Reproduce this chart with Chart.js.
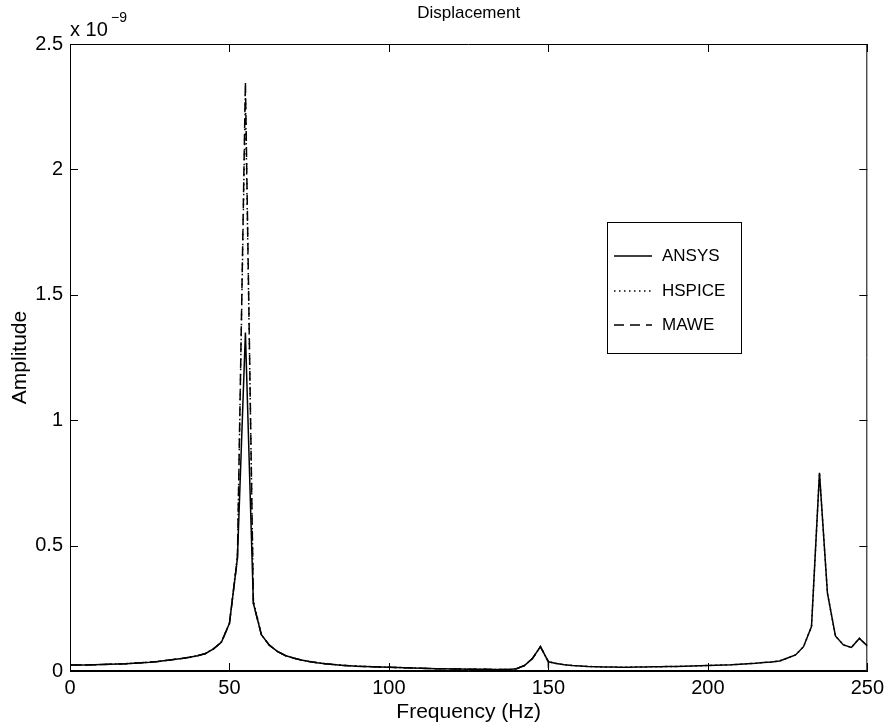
<!DOCTYPE html>
<html>
<head>
<meta charset="utf-8">
<script src="https://cdn.jsdelivr.net/npm/chart.js@4/dist/chart.umd.min.js"></script>
<style>
  body { margin: 0; background: #fff; }
  #wrap { width: 889px; height: 725px; }
</style>
</head>
<body>
<div id="wrap"><canvas id="myChart" width="889" height="725"></canvas></div>
<script>
// frequency samples (Hz), 2.5 Hz step
var freq = [0, 2.5, 5, 7.5, 10, 12.5, 15, 17.5, 20, 22.5,
  25, 27.5, 30, 32.5, 35, 37.5, 40, 42.5, 45, 47.5,
  50, 52.5, 55, 57.5, 60, 62.5, 65, 67.5, 70, 72.5,
  75, 77.5, 80, 82.5, 85, 87.5, 90, 92.5, 95, 97.5,
  100, 102.5, 105, 107.5, 110, 112.5, 115, 117.5, 120, 122.5,
  125, 127.5, 130, 132.5, 135, 137.5, 140, 142.5, 145, 147.5,
  150, 152.5, 155, 157.5, 160, 162.5, 165, 167.5, 170, 172.5,
  175, 177.5, 180, 182.5, 185, 187.5, 190, 192.5, 195, 197.5,
  200, 202.5, 205, 207.5, 210, 212.5, 215, 217.5, 220, 222.5,
  225, 227.5, 230, 232.5, 235, 237.5, 240, 242.5, 245, 247.5,
  250];

// amplitudes in units of 1e-9
var ansys = [0.024, 0.024, 0.024, 0.025, 0.026, 0.027, 0.028, 0.029, 0.031, 0.033,
  0.035, 0.038, 0.042, 0.046, 0.050, 0.055, 0.061, 0.070, 0.088, 0.115,
  0.19, 0.45, 1.35, 0.27, 0.145, 0.103, 0.078, 0.062, 0.052, 0.044,
  0.038, 0.033, 0.029, 0.026, 0.023, 0.021, 0.019, 0.018, 0.017, 0.016,
  0.015, 0.014, 0.013, 0.012, 0.011, 0.010, 0.009, 0.009, 0.008, 0.008,
  0.007, 0.007, 0.007, 0.006, 0.006, 0.006, 0.009, 0.022, 0.050, 0.097,
  0.037, 0.030, 0.025, 0.022, 0.020, 0.018, 0.017, 0.016, 0.016, 0.015,
  0.015, 0.016, 0.016, 0.017, 0.017, 0.018, 0.018, 0.019, 0.020, 0.021,
  0.022, 0.023, 0.024, 0.025, 0.027, 0.029, 0.031, 0.034, 0.036, 0.040,
  0.052, 0.064, 0.097, 0.177, 0.79, 0.31, 0.14, 0.104, 0.094, 0.13,
  0.10];

var hspice = [0.024, 0.024, 0.024, 0.025, 0.026, 0.027, 0.028, 0.029, 0.031, 0.033,
  0.035, 0.038, 0.042, 0.046, 0.050, 0.055, 0.061, 0.070, 0.088, 0.116,
  0.19, 0.46, 2.30, 0.28, 0.145, 0.103, 0.078, 0.062, 0.052, 0.044,
  0.038, 0.033, 0.029, 0.026, 0.023, 0.021, 0.019, 0.018, 0.017, 0.016,
  0.015, 0.014, 0.013, 0.012, 0.011, 0.010, 0.009, 0.009, 0.008, 0.008,
  0.007, 0.007, 0.007, 0.006, 0.006, 0.006, 0.009, 0.022, 0.050, 0.097,
  0.037, 0.030, 0.025, 0.022, 0.020, 0.018, 0.017, 0.016, 0.016, 0.015,
  0.015, 0.016, 0.016, 0.017, 0.017, 0.018, 0.018, 0.019, 0.020, 0.021,
  0.022, 0.023, 0.024, 0.025, 0.027, 0.029, 0.031, 0.034, 0.036, 0.040,
  0.052, 0.064, 0.097, 0.177, 0.79, 0.31, 0.14, 0.104, 0.094, 0.13,
  0.10];

// MAWE only covers 0..150 Hz, last sample drops to zero
var maweFreq = [0, 2.5, 5, 7.5, 10, 12.5, 15, 17.5, 20, 22.5,
  25, 27.5, 30, 32.5, 35, 37.5, 40, 42.5, 45, 47.5,
  50, 52.5, 55, 57.5, 60, 62.5, 65, 67.5, 70, 72.5,
  75, 77.5, 80, 82.5, 85, 87.5, 90, 92.5, 95, 97.5,
  100, 102.5, 105, 107.5, 110, 112.5, 115, 117.5, 120, 122.5,
  125, 127.5, 130, 132.5, 135, 137.5, 140, 142.5, 145, 147.5,
  150, 150];
var mawe = [0.024, 0.024, 0.024, 0.025, 0.026, 0.027, 0.028, 0.029, 0.031, 0.033,
  0.035, 0.038, 0.042, 0.046, 0.050, 0.055, 0.061, 0.070, 0.088, 0.115,
  0.19, 0.45, 2.35, 0.27, 0.145, 0.103, 0.078, 0.062, 0.052, 0.044,
  0.038, 0.033, 0.029, 0.026, 0.023, 0.021, 0.019, 0.018, 0.017, 0.016,
  0.015, 0.014, 0.013, 0.012, 0.011, 0.010, 0.009, 0.009, 0.008, 0.008,
  0.007, 0.007, 0.007, 0.006, 0.006, 0.006, 0.009, 0.022, 0.050, 0.097,
  0.037, 0.0];

var xTicks = [0, 50, 100, 150, 200, 250];
var yTicks = [0, 0.5, 1, 1.5, 2, 2.5];

var FONT = "'Liberation Sans', Arial, Helvetica, sans-serif";

function toPoints(xs, ys) {
  return ys.map(function (v, i) { return { x: xs[i], y: v }; });
}

// box, inward ticks, legend and texts (MATLAB look)
var decor = {
  id: 'decor',
  afterDraw: function (chart) {
    var ctx = chart.ctx;
    var a = chart.chartArea;
    var sx = chart.scales.x, sy = chart.scales.y;
    ctx.save();
    ctx.strokeStyle = '#000';
    ctx.lineWidth = 1;
    ctx.beginPath();
    ctx.rect(a.left + 0.5, a.top + 0.5, a.right - a.left - 1, a.bottom - a.top - 1);
    ctx.stroke();
    ctx.beginPath();
    xTicks.forEach(function (t) {
      var px = Math.round(sx.getPixelForValue(t)) + 0.5;
      ctx.moveTo(px, a.bottom); ctx.lineTo(px, a.bottom - 8);
      ctx.moveTo(px, a.top); ctx.lineTo(px, a.top + 8);
    });
    yTicks.forEach(function (t) {
      var py = Math.round(sy.getPixelForValue(t)) + 0.5;
      ctx.moveTo(a.left, py); ctx.lineTo(a.left + 8, py);
      ctx.moveTo(a.right, py); ctx.lineTo(a.right - 8, py);
    });
    ctx.stroke();

    // legend
    var lx = 607, ly = 222, lw = 134, lh = 131;
    ctx.fillStyle = '#fff';
    ctx.fillRect(lx, ly, lw, lh);
    ctx.strokeRect(lx + 0.5, ly + 0.5, lw, lh);
    var rows = [256, 291, 325];
    ctx.font = '17px ' + FONT;
    ctx.textBaseline = 'middle';
    ctx.textAlign = 'left';
    chart.data.datasets.forEach(function (ds, i) {
      ctx.beginPath();
      ctx.setLineDash(ds.borderDash || []);
      ctx.lineWidth = ds.borderWidth;
      ctx.moveTo(614, rows[i]); ctx.lineTo(652, rows[i]);
      ctx.stroke();
      ctx.setLineDash([]);
      ctx.fillStyle = '#000';
      ctx.fillText(ds.label, 662, rows[i]);
    });

    // title and axis labels
    ctx.fillStyle = '#000';
    ctx.textAlign = 'center';
    ctx.font = '17px ' + FONT;
    ctx.fillText('Displacement', (a.left + a.right) / 2, 13);
    ctx.font = '21px ' + FONT;
    ctx.fillText('Frequency (Hz)', (a.left + a.right) / 2, 712);
    ctx.save();
    ctx.translate(20, (a.top + a.bottom) / 2);
    ctx.rotate(-Math.PI / 2);
    ctx.fillText('Amplitude', 0, 0);
    ctx.restore();

    // exponent
    ctx.textAlign = 'left';
    ctx.textBaseline = 'alphabetic';
    ctx.font = '20px ' + FONT;
    ctx.fillText('x 10', 70, 36);
    ctx.font = '14px ' + FONT;
    ctx.fillText('\u22129', 111, 22);
    ctx.restore();
  }
};

var ctx = document.getElementById('myChart').getContext('2d');
var myChart = new Chart(ctx, {
  type: 'line',
  data: {
    datasets: [{
      label: 'ANSYS',
      data: toPoints(freq, ansys),
      borderColor: '#000',
      borderWidth: 1.5
    }, {
      label: 'HSPICE',
      data: toPoints(freq, hspice),
      borderColor: '#000',
      borderWidth: 1.5,
      borderDash: [1.5, 3.5]
    }, {
      label: 'MAWE',
      data: toPoints(maweFreq, mawe),
      borderColor: '#000',
      borderWidth: 1.5,
      borderDash: [10, 6]
    }]
  },
  options: {
    responsive: false,
    animation: false,
    events: [],
    elements: { point: { radius: 0 }, line: { tension: 0, fill: false } },
    layout: { padding: { top: 44, right: 21, left: 0, bottom: 0 } },
    plugins: { legend: { display: false }, tooltip: { enabled: false }, title: { display: false } },
    scales: {
      x: {
        type: 'linear', min: 0, max: 250,
        afterFit: function (s) { s.height = 54; },
        afterBuildTicks: function (s) { s.ticks = xTicks.map(function (v) { return { value: v }; }); },
        grid: { display: false, drawTicks: false },
        border: { display: true, color: '#000' },
        ticks: { color: '#000', padding: 5, maxRotation: 0, font: { size: 20, family: FONT },
          callback: function (v) { return String(v); } }
      },
      y: {
        type: 'linear', min: 0, max: 2.5,
        afterFit: function (s) { s.width = 70; },
        afterBuildTicks: function (s) { s.ticks = yTicks.map(function (v) { return { value: v }; }); },
        grid: { display: false, drawTicks: false },
        border: { display: true, color: '#000' },
        ticks: { color: '#000', padding: 7, font: { size: 20, family: FONT },
          callback: function (v) { return String(v); } }
      }
    }
  },
  plugins: [decor]
});
</script>
</body>
</html>
